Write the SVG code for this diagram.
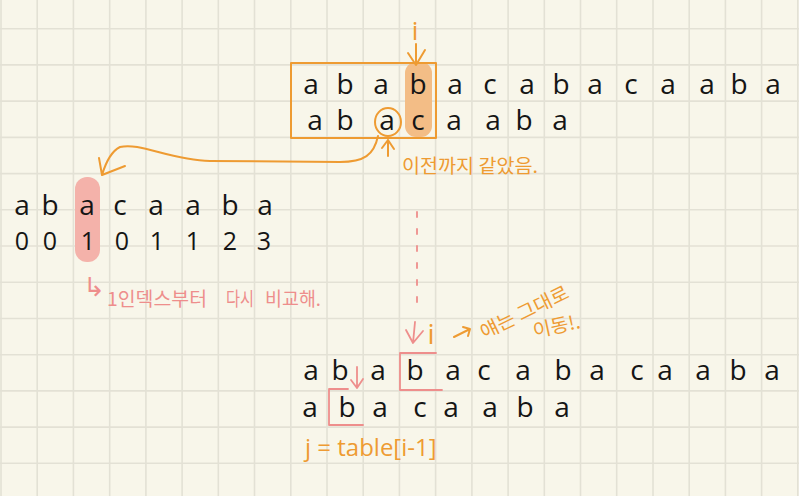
<svg xmlns="http://www.w3.org/2000/svg" width="799" height="496" viewBox="0 0 799 496">
<style>
.bg{fill:#F8F6EA}
.grid{stroke:#E3E1D5;stroke-width:1.6;fill:none}
.ch{font-family:"Open Sans","Noto Sans",sans-serif;font-size:28px;fill:#151515;text-anchor:middle}
.dg{font-family:"Open Sans","Noto Sans",sans-serif;font-size:25px;fill:#151515;text-anchor:middle}
.or{stroke:#EE9B32;fill:none;stroke-width:2;stroke-linecap:round;stroke-linejoin:round}
.pk{stroke:#EE8E8C;fill:none;stroke-width:1.8;stroke-linecap:round;stroke-linejoin:round}
.ko{font-family:"Noto Sans CJK KR","Noto Sans",sans-serif;font-size:19px}
.otx{fill:#EE9B32}
.ptx{fill:#EE8E8C}
</style>
<rect class="bg" x="0" y="0" width="799" height="496"/>
<path class="grid" d="M1 0V496M37.2 0V496M73.4 0V496M109.7 0V496M145.9 0V496M182.1 0V496M218.3 0V496M254.5 0V496M290.8 0V496M327 0V496M363.2 0V496M399.4 0V496M435.6 0V496M471.9 0V496M508.1 0V496M544.3 0V496M580.5 0V496M616.7 0V496M653 0V496M689.2 0V496M725.4 0V496M761.6 0V496M797.8 0V496M0 28.7H799M0 64.9H799M0 101.1H799M0 137.4H799M0 173.6H799M0 209.8H799M0 246H799M0 282.2H799M0 318.5H799M0 354.7H799M0 390.9H799M0 427.1H799M0 463.3H799"/>

<g id="top-compare">
<rect x="405" y="62" width="27" height="75" rx="11" fill="#F3BD86"/>
<rect class="or" x="291" y="63" width="145" height="75"/>
<ellipse class="or" cx="388" cy="122" rx="13" ry="14"/>
<g class="ch">
<text x="311" y="94">a</text><text x="345" y="94">b</text><text x="381" y="94">a</text><text x="418" y="94">b</text><text x="455" y="94">a</text><text x="490" y="94">c</text><text x="527" y="94">a</text><text x="561" y="94">b</text><text x="595" y="94">a</text><text x="631" y="94">c</text><text x="668" y="94">a</text><text x="707" y="94">a</text><text x="739" y="94">b</text><text x="773" y="94">a</text>
<text x="315" y="130">a</text><text x="345" y="130">b</text><text x="387" y="130">a</text><text x="418" y="130">c</text><text x="454" y="130">a</text><text x="493" y="130">a</text><text x="524" y="130">b</text><text x="560" y="130">a</text>
</g>
<text class="otx" x="415" y="40" font-family="Open Sans,sans-serif" font-size="26" text-anchor="middle">i</text>
<text class="ko otx" x="402" y="173" textLength="136" lengthAdjust="spacingAndGlyphs">이전까지 같았음.</text>
</g>

<g id="table">
<rect x="75" y="177" width="25" height="85" rx="12" fill="#F4B2AA"/>
<g class="ch">
<text x="22" y="215">a</text><text x="50" y="215">b</text><text x="87" y="215">a</text><text x="120" y="215">c</text><text x="156" y="215">a</text><text x="193" y="215">a</text><text x="230" y="215">b</text><text x="265" y="215">a</text>
</g>
<g class="dg">
<text x="22" y="250">0</text><text x="50" y="250">0</text><text x="88" y="250">1</text><text x="122" y="250">0</text><text x="157" y="250">1</text><text x="193" y="250">1</text><text x="230" y="250">2</text><text x="264" y="250">3</text>
</g>
<text class="ptx" x="83" y="296" font-family="DejaVu Sans,sans-serif" font-size="26">↳</text>
<text class="ko ptx" x="107" y="306" textLength="100" lengthAdjust="spacingAndGlyphs">1인덱스부터</text>
<text class="ko ptx" x="226" y="306" textLength="28" lengthAdjust="spacingAndGlyphs">다시</text>
<text class="ko ptx" x="265" y="306" textLength="56" lengthAdjust="spacingAndGlyphs">비교해.</text>
</g>

<g id="bottom-compare">
<path class="pk" d="M436 353H400V390H442"/>
<path class="pk" d="M348 389H329V425H363"/>
<g class="ch">
<text x="311" y="380">a</text><text x="340" y="380">b</text><text x="378" y="380">a</text><text x="415" y="380">b</text><text x="453" y="380">a</text><text x="484" y="380">c</text><text x="523" y="380">a</text><text x="563" y="380">b</text><text x="597" y="380">a</text><text x="637" y="380">c</text><text x="665" y="380">a</text><text x="703" y="380">a</text><text x="738" y="380">b</text><text x="772" y="380">a</text>
<text x="310" y="417">a</text><text x="347" y="417">b</text><text x="380" y="417">a</text><text x="420" y="417">c</text><text x="451" y="417">a</text><text x="490" y="417">a</text><text x="525" y="417">b</text><text x="562" y="417">a</text>
</g>
<text class="otx" x="431" y="344" font-family="Open Sans,sans-serif" font-size="28" text-anchor="middle">i</text>
<g transform="rotate(-26 522 312)">
<text class="ko otx" x="476" y="320" font-size="21" textLength="96" lengthAdjust="spacingAndGlyphs">얘는 그대로</text>
</g>
<g transform="rotate(-12 556 324)">
<text class="ko otx" x="532" y="333" font-size="20" textLength="48" lengthAdjust="spacingAndGlyphs">이동!.</text>
</g>
<text class="otx" x="305" y="456" font-family="Open Sans,sans-serif" font-size="24">j = table[i-1]</text>
</g>

<g id="connectors">
<path class="or" d="M416 44V65M408 53L416 65L425 50"/>
<path class="or" d="M388 156V140M382 148L388 140L394 149"/>
<path class="or" d="M378 136C374 155,364 162,340 162L210 161C170 160,140 142,120 147C110 152,105 165,102 175M99 158L102 175L125 166"/>
<path class="pk" d="M417 212V303" stroke-dasharray="5 12"/>
<path class="pk" d="M415 322L413 343M406 330L413 343L423 331"/>
<path class="or" d="M454 337L470 329M463 327L470 329L468 336"/>
<path class="pk" d="M357 367V388M351 380L357 388L363 379"/>
</g>
</svg>
